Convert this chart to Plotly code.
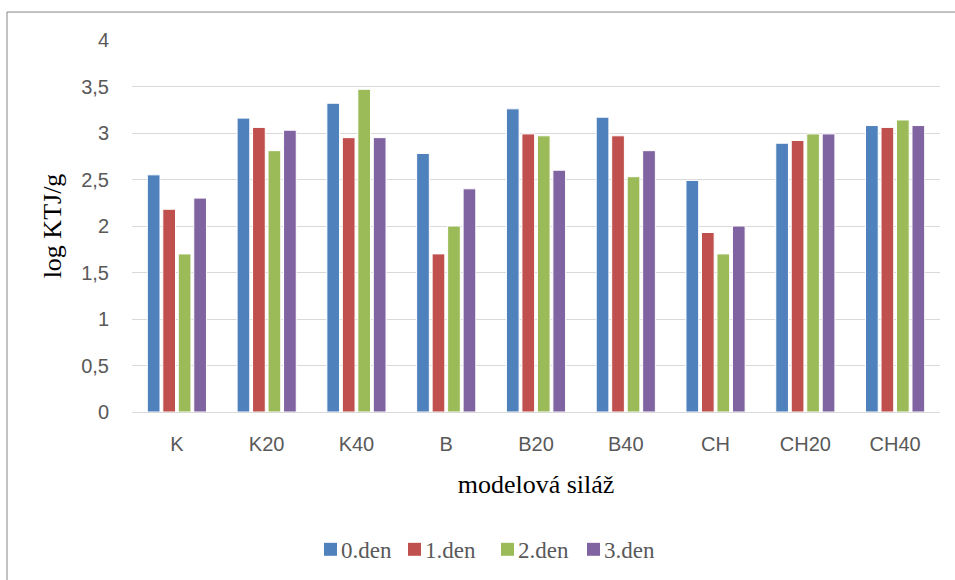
import plotly.graph_objects as go

categories = ["K", "K20", "K40", "B", "B20", "B40", "CH", "CH20", "CH40"]
den0 = [2.55, 3.16, 3.32, 2.78, 3.26, 3.17, 2.49, 2.89, 3.08]
den1 = [2.18, 3.06, 2.95, 1.70, 2.99, 2.97, 1.93, 2.92, 3.06]
den2 = [1.70, 2.81, 3.47, 2.00, 2.97, 2.53, 1.70, 2.99, 3.14]
den3 = [2.30, 3.03, 2.95, 2.40, 2.60, 2.81, 2.00, 2.99, 3.08]
series_names = ["0.den", "1.den", "2.den", "3.den"]
colors = ["#4F81BD", "#C0504D", "#9BBB59", "#8064A2"]

L, R, T, B = 132, 15, 40, 167.5
W, H = 955, 580
pw, ph = W - L - R, H - T - B


def px_x(px):
    return (px - L) / pw


def px_y(py):
    return (H - B - py) / ph


fig = go.Figure()
for name, vals, col in zip(series_names, [den0, den1, den2, den3], colors):
    fig.add_trace(go.Bar(x=categories, y=vals, name=name, showlegend=False,
                         marker=dict(color=col, line=dict(color="white", width=1))))

# custom legend (Excel style: small square + serif text)
legend_left = [324, 408, 501, 587]
sq = 13
legend_cy = 550
shapes = [dict(type="rect", xref="paper", yref="paper",
               x0=px_x(7), x1=px_x(965), y0=px_y(600), y1=px_y(12),
               line=dict(color="#868686", width=1), fillcolor="rgba(0,0,0,0)", layer="below")]
annotations = []
for lx, name, col in zip(legend_left, series_names, colors):
    shapes.append(dict(type="rect", xref="paper", yref="paper",
                       x0=px_x(lx), x1=px_x(lx + sq),
                       y0=px_y(legend_cy + sq / 2), y1=px_y(legend_cy - sq / 2),
                       line=dict(width=0), fillcolor=col))
    annotations.append(dict(text=name, xref="paper", yref="paper",
                            x=px_x(lx + sq + 2), y=px_y(legend_cy + 1),
                            xanchor="left", yanchor="middle", showarrow=False,
                            font=dict(family="Liberation Serif", size=23, color="#595959")))

fig.update_layout(
    width=W, height=H,
    margin=dict(l=L, r=R, t=T, b=B),
    paper_bgcolor="white", plot_bgcolor="white",
    barmode="group", bargap=0.31, bargroupgap=0.18,
    separators=", ",
    showlegend=False,
    font=dict(family="Liberation Sans", color="#595959"),
    xaxis=dict(
        title=dict(text="modelová siláž", font=dict(family="Liberation Serif", size=26, color="black"), standoff=20),
        tickfont=dict(family="Liberation Sans", size=20, color="#595959"),
        showline=True, linecolor="#d9d9d9", linewidth=1,
        ticks="", ticklabelstandoff=14, showgrid=False,
    ),
    yaxis=dict(
        title=dict(text="log KTJ/g", font=dict(family="Liberation Serif", size=26, color="black"), standoff=12),
        tickfont=dict(family="Liberation Sans", size=20, color="#595959"),
        range=[0, 4], dtick=0.5, tick0=0,
        showgrid=True, gridcolor="#d9d9d9", gridwidth=1,
        zeroline=False, ticks="", ticklabelstandoff=22,
    ),
    shapes=shapes,
    annotations=annotations,
)

fig.write_html("out.html")
